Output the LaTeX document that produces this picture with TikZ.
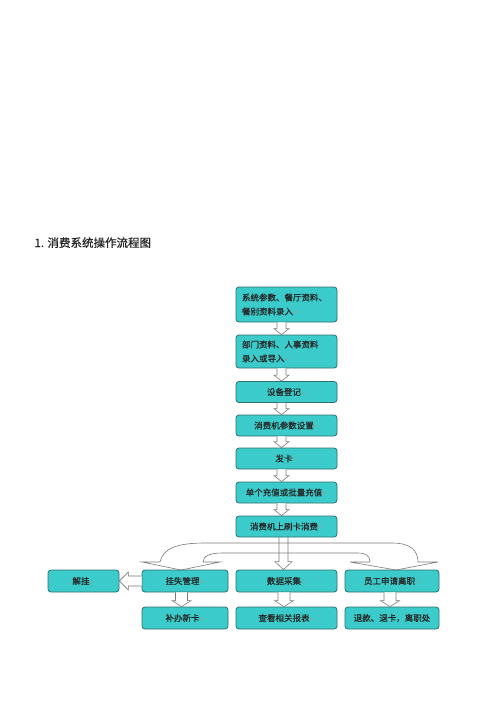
\documentclass[tikz,border=0pt]{standalone}
\usepackage{fontspec}
\newfontfamily\cjk[FakeBold=0.6]{Noto Sans CJK SC}
\newfontfamily\cjktitle[FakeBold=0.8]{Noto Sans CJK SC}
\newfontfamily\symf{DejaVu Sans}
\usetikzlibrary{calc}
\definecolor{boxfill}{HTML}{3CCBCB}
\definecolor{boxline}{HTML}{2F6E70}
\definecolor{arrline}{HTML}{7A7A7A}
\newcommand\retm{{\symf\fontsize{6}{6}\selectfont\textcolor{black!40}{↵}}}
% #1 from node, #2 to node, #3 x offset, #4 shaft half width, #5 head half width, #6 head length
\newcommand\vblock[6]{%
  \draw[blk] let \p1=($(#1.south)+(#3,0)$), \p2=(#2.north) in
    (\x1-#4pt,\y1) -- (\x1-#4pt,\y2+#6pt) -- (\x1-#5pt,\y2+#6pt) -- (\x1,\y2)
    -- (\x1+#5pt,\y2+#6pt) -- (\x1+#4pt,\y2+#6pt) -- (\x1+#4pt,\y1);}
\begin{document}
\begin{tikzpicture}[x=1pt,y=-1pt,
  box/.style={draw=boxline, fill=boxfill, line width=0.8pt, rounded corners=3pt,
    font=\cjk\fontsize{8.5}{14}\selectfont, text=black!85, inner sep=0pt, align=center},
  blk/.style={draw=arrline, line width=0.6pt, fill=white, line join=miter}]
\useasboundingbox (0,0) rectangle (500,707);
\fill[white] (0,0) rectangle (500,707);

\node[anchor=base west, font=\cjktitle\fontsize{11.5}{12}\selectfont, text=black!85] (title) at (31,247) {1. 消费系统操作流程图};

\node[box, minimum width=101pt, minimum height=35pt, text width=89pt, align=left] (b1) at (286.5,304.5) {系统参数、餐厅资料、\\餐别资料录入\retm};
\node[box, minimum width=101pt, minimum height=33pt, text width=89pt, align=left] (b2) at (286.5,351.5) {部门资料、人事资料\\录入或导入\retm};
\node[box, minimum width=101pt, minimum height=21pt] (b3) at (286.5,392) {设备登记\retm};
\node[box, minimum width=101pt, minimum height=21pt] (b4) at (286.5,425.5) {消费机参数设置\retm};
\node[box, minimum width=101pt, minimum height=21pt] (b5) at (286.5,458.5) {发卡\retm};
\node[box, minimum width=101pt, minimum height=21pt] (b6) at (286.5,492.5) {单个充值或批量充值\retm};
\node[box, minimum width=101pt, minimum height=21pt] (b7) at (286.5,526.5) {消费机上刷卡消费\retm};

\node[box, minimum width=71pt, minimum height=22pt] (jg) at (83.5,581) {解挂\retm};
\node[box, minimum width=86pt, minimum height=22pt] (gs) at (185,581) {挂失管理\retm};
\node[box, minimum width=101pt, minimum height=22pt] (sj) at (286.5,581) {数据采集\retm};
\node[box, minimum width=94pt, minimum height=22pt] (yg) at (392,581) {员工申请离职\retm};

\node[box, minimum width=86pt, minimum height=22pt] (bb) at (185,618) {补办新卡\retm};
\node[box, minimum width=101pt, minimum height=22pt] (ck) at (286.5,618) {查看相关报表\retm};
\node[box, minimum width=94pt, minimum height=22pt] (tk) at (392,618) {退款、退卡，离职处};

% stacked arrows
\vblock{b1}{b2}{-5}{4.5}{7.5}{6}
\vblock{b2}{b3}{-5}{4.5}{7.5}{6}
\vblock{b3}{b4}{-5}{4.5}{7.5}{6}
\vblock{b4}{b5}{-5}{4.5}{7.5}{6}
\vblock{b5}{b6}{-5}{4.5}{7.5}{6}
\vblock{b6}{b7}{-5}{4.5}{7.5}{6}

% branching arrows
\draw[blk, fill=none] (160,562) .. controls (163,548) and (178,543) .. (205,543)
  -- (392,543) .. controls (410,543) and (418,550) .. (418,562)
  -- (438,562) -- (396,570) -- (350,562) -- (370,562)
  .. controls (370,556) and (366,553) .. (358,553)
  -- (222,553) .. controls (210,553) and (203,556) .. (203,562)
  -- (220,562) -- (181,570) -- (142,562) -- cycle;
\begin{scope}[blk/.append style={fill=none}]
\vblock{b7}{sj}{-3}{4.5}{8.5}{8}
\end{scope}

% left arrow to 解挂
\draw[blk] let \p1=(gs.west), \p2=(jg.east) in
  (\x1,\y1+5pt) -- (\x2+9pt,\y1+5pt) -- (\x2+9pt,\y1+9pt) -- (\x2,\y1)
  -- (\x2+9pt,\y1-9pt) -- (\x2+9pt,\y1-5pt) -- (\x1,\y1-5pt);

% bottom arrows
\vblock{gs}{bb}{-3.5}{6}{9.5}{6}
\vblock{sj}{ck}{-2.5}{6}{9.5}{6}
\vblock{yg}{tk}{-2}{6}{9.5}{6}
\end{tikzpicture}
\end{document}
